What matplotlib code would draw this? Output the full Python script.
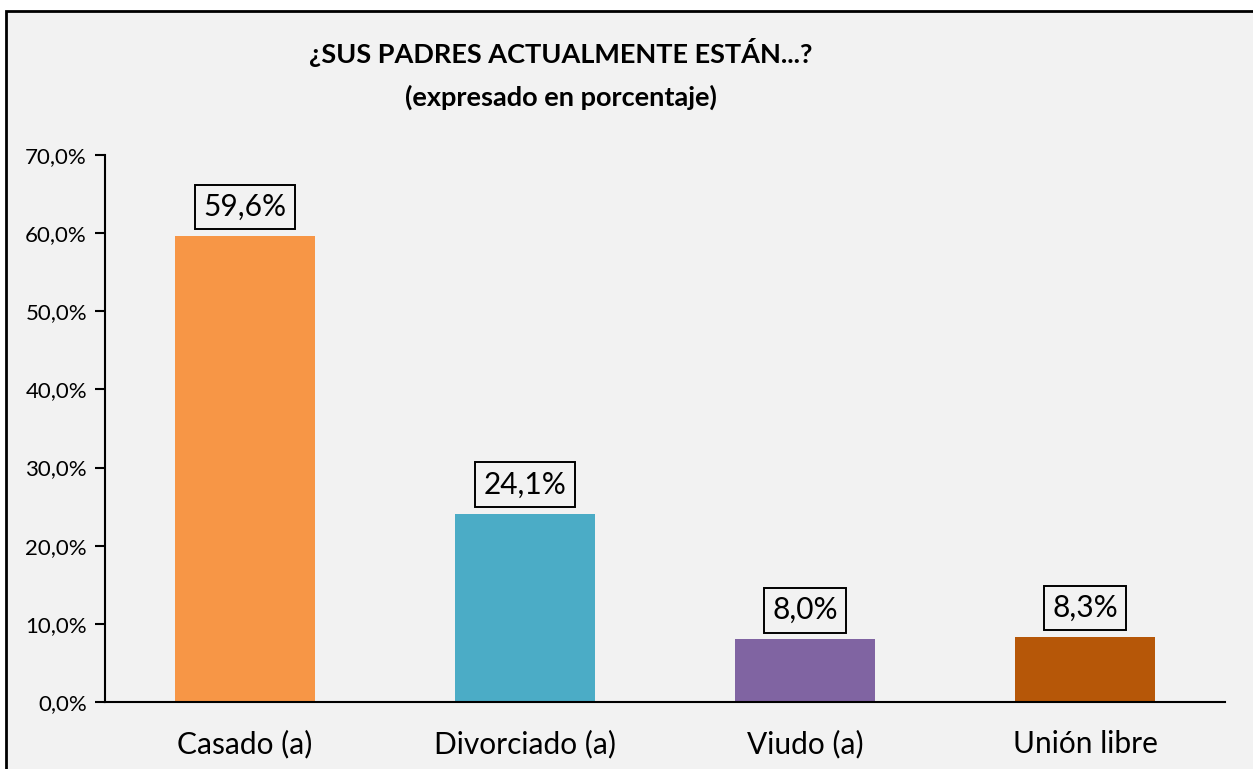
import matplotlib.pyplot as plt
from matplotlib.patches import Rectangle
from matplotlib.ticker import FuncFormatter

plt.rcParams['font.family'] = ['Lato', 'DejaVu Sans']

categorias = ['Casado (a)', 'Divorciado (a)', 'Viudo (a)', 'Unión libre']
porcentajes = [59.6, 24.1, 8.0, 8.3]
colores = ['#F79646', '#4BACC6', '#8064A2', '#B65708']
titulo = '¿SUS PADRES ACTUALMENTE ESTÁN...?\n(expresado en porcentaje)'

fondo = '#F2F2F2'
W, H = 1253, 769
fig = plt.figure(figsize=(W / 100, H / 100), dpi=100)
fig.patch.set_facecolor('white')

# marco del grafico (se sale por la derecha y abajo)
marco = Rectangle((6 / W, -0.05), 1.1, 1 - 11 / H + 0.05, transform=fig.transFigure,
                  facecolor=fondo, edgecolor='black', linewidth=2, zorder=-5)
fig.patches.append(marco)

ax = fig.add_axes([105 / W, 1 - 702 / H, 1120 / W, 547 / H])
ax.patch.set_alpha(0)

x = range(len(categorias))
barras = ax.bar(x, porcentajes, width=0.5, color=colores)
ax.set_xlim(-0.5, len(categorias) - 0.5)
ax.set_ylim(0, 70)
ax.set_yticks(range(0, 71, 10))
ax.yaxis.set_major_formatter(FuncFormatter(lambda v, p: f'{v:.1f}%'.replace('.', ',')))
ax.set_xticks(list(x))
ax.set_xticklabels(categorias, fontsize=21.5)
ax.tick_params(axis='y', labelsize=16, length=7, width=1.5, direction='out', pad=6)
ax.tick_params(axis='x', length=0, pad=20)

for s in ['top', 'right']:
    ax.spines[s].set_visible(False)
for s in ['left', 'bottom']:
    ax.spines[s].set_linewidth(1.5)

for b, v in zip(barras, porcentajes):
    ax.annotate(f'{v:.1f}%'.replace('.', ','), (b.get_x() + b.get_width() / 2, v),
                xytext=(0, 11), textcoords='offset points', ha='center', va='bottom',
                fontsize=21.5,
                bbox=dict(boxstyle='square,pad=0.28', facecolor=fondo, edgecolor='black', linewidth=1.4))

fig.text(561 / W, 1 - 74 / H, titulo, ha='center', va='center', fontsize=19.5,
         fontweight='bold', linespacing=1.8)

fig.savefig('out.png', dpi=100, facecolor='white')
